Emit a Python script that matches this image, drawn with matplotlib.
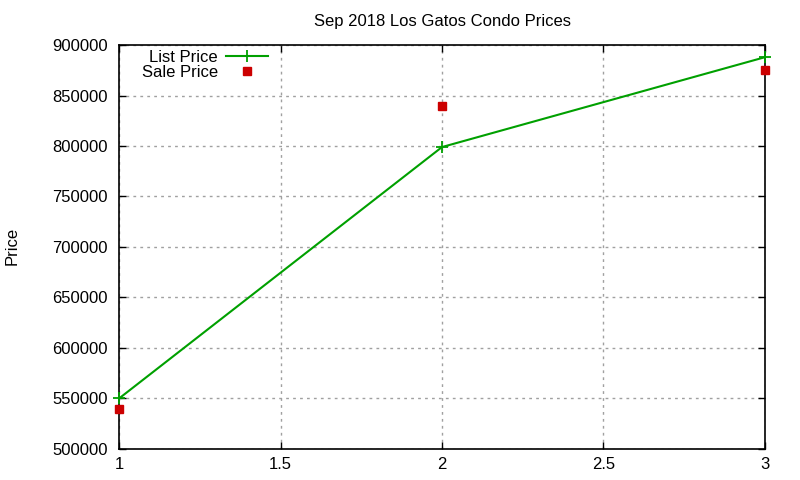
import matplotlib
matplotlib.use('Agg')
import matplotlib.pyplot as plt
from matplotlib.ticker import ScalarFormatter

plt.rcParams['font.family'] = ['Liberation Sans', 'DejaVu Sans']

# data
months = [1, 2, 3]
list_price = [550000, 799000, 888000]
sale_price = [539000, 840000, 875000]
xticks = [1, 1.5, 2, 2.5, 3]
xticklabels = ['1', '1.5', '2', '2.5', '3']
yticks = [500000, 550000, 600000, 650000, 700000, 750000, 800000, 850000, 900000]

fig = plt.figure(figsize=(8, 4.8), dpi=100)
ax = fig.add_axes([0.149, 0.065, 0.807, 0.841])

ax.plot(months, list_price, color='#00a000', lw=1.5, marker='+', ms=8, mew=1.3,
        label='List Price', clip_on=False, zorder=3)
ax.plot(months, sale_price, ls='none', color='#cc0000', marker='s', ms=5.8,
        label='Sale Price', clip_on=False, zorder=3)

ax.set_xlim(1, 3)
ax.set_ylim(500000, 900000)
ax.set_xticks(xticks)
ax.set_xticklabels(xticklabels)
ax.set_yticks(yticks)
fmt = ScalarFormatter(useOffset=False)
fmt.set_scientific(False)
ax.yaxis.set_major_formatter(fmt)

ax.tick_params(direction='in', length=5, width=1, top=True, right=True, labelsize=12)
ax.tick_params(axis='y', pad=8)
ax.tick_params(axis='x', pad=6)
ax.grid(True, color='#a0a0a0', ls=(0, (2, 3)), lw=1)
for s in ax.spines.values():
    s.set_linewidth(1.2)

ax.set_title('Sep 2018 Los Gatos Condo Prices', fontsize=12, pad=14)
fig.text(12 / 800, 1 - 246 / 480, 'Price', rotation=90, ha='center', va='center', fontsize=12)

leg = ax.legend(loc='upper right', bbox_to_anchor=(268 / 800, 1 - 50 / 480),
                bbox_transform=fig.transFigure, frameon=False, markerfirst=False,
                fontsize=12, handlelength=2.5, handletextpad=0.5, labelspacing=0.0,
                borderaxespad=0, borderpad=0)
for t in leg.get_texts():
    t.set_ha('right')
leg._legend_box.align = 'right'

fig.savefig('out.png', dpi=100)
